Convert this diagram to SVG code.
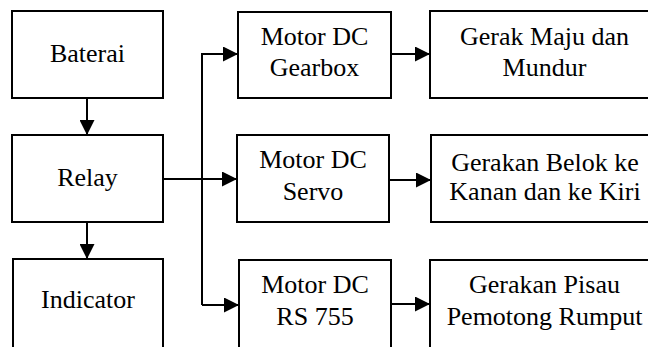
<svg xmlns="http://www.w3.org/2000/svg" width="648" height="347" viewBox="0 0 648 347">
<defs>
<style>
.box{fill:#fff;stroke:#000;stroke-width:2}
.c{fill:none;stroke:#000;stroke-width:2}
.t{font-family:'Liberation Serif','Times New Roman',serif;font-size:26px;fill:#000;text-anchor:middle}
</style>
<marker id="ah" markerUnits="userSpaceOnUse" markerWidth="15" markerHeight="15" viewBox="0 0 14 14" refX="14" refY="7" orient="auto">
<path d="M0,0 L14,7 L0,14 Z" fill="#000"/>
</marker>
</defs>
<rect width="648" height="347" fill="#fff"/>
<g id="connectors">
<path class="c" d="M87,98 V135" marker-end="url(#ah)"/>
<path class="c" d="M87,222 V259" marker-end="url(#ah)"/>
<path class="c" d="M163,179 H237" marker-end="url(#ah)"/>
<path class="c" d="M202,305 V54 H238" marker-end="url(#ah)"/>
<path class="c" d="M202,305 H239" marker-end="url(#ah)"/>
<path class="c" d="M391,54 H430" marker-end="url(#ah)"/>
<path class="c" d="M389,180 H431" marker-end="url(#ah)"/>
<path class="c" d="M391,304 H430" marker-end="url(#ah)"/>
</g>
<g id="baterai"><rect class="box" x="12" y="11" width="151" height="87"/><text class="t" x="87.5" y="62">Baterai</text></g>
<g id="relay"><rect class="box" x="12" y="135" width="151" height="87"/><text class="t" x="87.5" y="186">Relay</text></g>
<g id="indicator"><rect class="box" x="13" y="259" width="150" height="100"/><text class="t" x="88" y="308">Indicator</text></g>
<g id="motor-gearbox"><rect class="box" x="238" y="12" width="153" height="86"/><text class="t" x="314.5" y="45">Motor DC</text><text class="t" x="314.5" y="76">Gearbox</text></g>
<g id="motor-servo"><rect class="box" x="237" y="135" width="152" height="87"/><text class="t" x="313" y="168">Motor DC</text><text class="t" x="313" y="200">Servo</text></g>
<g id="motor-rs755"><rect class="box" x="239" y="260" width="152" height="100"/><text class="t" x="315" y="293">Motor DC</text><text class="t" x="315" y="325">RS 755</text></g>
<g id="gerak-maju"><rect class="box" x="430" y="11" width="230" height="87"/><text class="t" x="544.5" y="45">Gerak Maju dan</text><text class="t" x="544.5" y="76">Mundur</text></g>
<g id="gerakan-belok"><rect class="box" x="431" y="135" width="230" height="87"/><text class="t" x="545" y="171">Gerakan Belok ke</text><text class="t" x="545" y="200">Kanan dan ke Kiri</text></g>
<g id="gerakan-pisau"><rect class="box" x="430" y="260" width="230" height="100"/><text class="t" x="544.5" y="293">Gerakan Pisau</text><text class="t" x="544.5" y="325">Pemotong Rumput</text></g>
</svg>
